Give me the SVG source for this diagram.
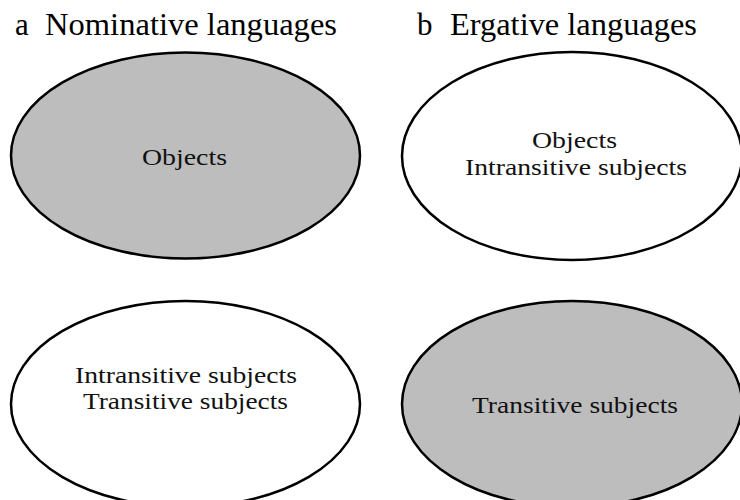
<svg xmlns="http://www.w3.org/2000/svg" width="740" height="500" viewBox="0 0 740 500">
<style>
.bg{fill:#ffffff}
.ell{stroke:#000;stroke-width:2.5}
.gray{fill:#bdbdbd}
.white{fill:#ffffff}
.title{font-family:"Liberation Serif","Times New Roman",serif;font-size:31px;fill:#000}
.lbl{font-family:"Liberation Serif","Times New Roman",serif;font-size:24px;fill:#111;text-anchor:middle}
</style>
<rect class="bg" x="0" y="0" width="740" height="500"/>
<g id="title-a">
<text class="title" x="15" y="35">a</text>
<text class="title" x="45" y="35" textLength="292" lengthAdjust="spacingAndGlyphs">Nominative languages</text>
</g>
<g id="title-b">
<text class="title" x="417" y="35">b</text>
<text class="title" x="450" y="35" textLength="247" lengthAdjust="spacingAndGlyphs">Ergative languages</text>
</g>
<g id="nom-top">
<ellipse class="ell gray" cx="185.5" cy="155.5" rx="174.5" ry="103"/>
<text class="lbl" x="184.5" y="165" textLength="85" lengthAdjust="spacingAndGlyphs">Objects</text>
</g>
<g id="erg-top">
<ellipse class="ell white" cx="572" cy="156" rx="170" ry="104"/>
<text class="lbl" x="574.5" y="148" textLength="85" lengthAdjust="spacingAndGlyphs">Objects</text>
<text class="lbl" x="576" y="175" textLength="222" lengthAdjust="spacingAndGlyphs">Intransitive subjects</text>
</g>
<g id="nom-bottom">
<ellipse class="ell white" cx="185.5" cy="404" rx="174.5" ry="103"/>
<text class="lbl" x="186" y="383" textLength="222" lengthAdjust="spacingAndGlyphs">Intransitive subjects</text>
<text class="lbl" x="185.5" y="409" textLength="205" lengthAdjust="spacingAndGlyphs">Transitive subjects</text>
</g>
<g id="erg-bottom">
<ellipse class="ell gray" cx="572" cy="404" rx="170" ry="103"/>
<text class="lbl" x="575" y="413" textLength="206" lengthAdjust="spacingAndGlyphs">Transitive subjects</text>
</g>
<g id="connectors"></g>
</svg>
